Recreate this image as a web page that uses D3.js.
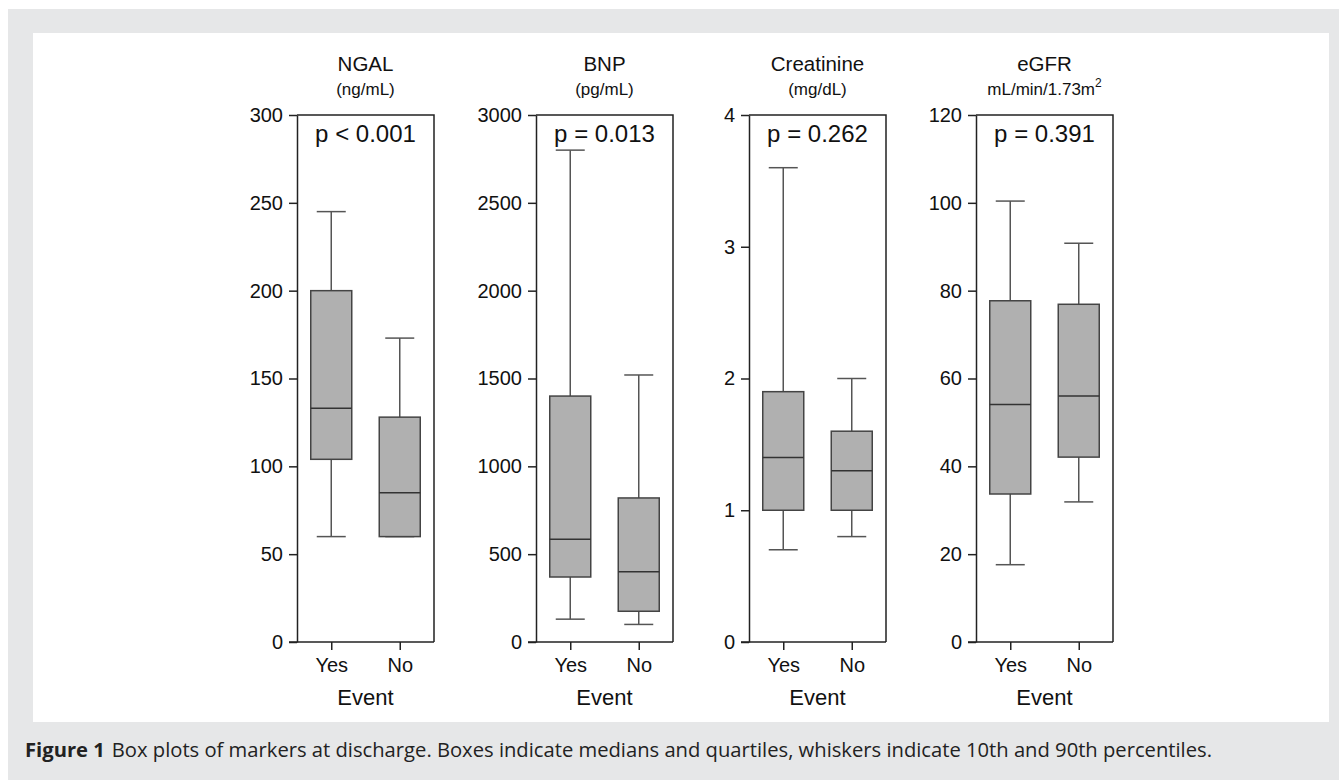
<!DOCTYPE html>
<html>
<head>
<meta charset="utf-8">
<script src="https://cdn.jsdelivr.net/npm/d3@7"></script>
<style>
  body { margin: 0; background: #fff; }
  .axis text { font-family: "Liberation Sans", Arial, sans-serif; font-size: 20px; fill: #111; }
  .axis path, .axis line { stroke: #222; stroke-width: 1.5px; }
</style>
</head>
<body>
<div id="chart-container"></div>
<script>
// categories on the x axis of each small plot
const groups = ['Yes', 'No'];

// one entry per panel
const markers = ['NGAL', 'BNP', 'Creatinine', 'eGFR'];
const units = ['(ng/mL)', '(pg/mL)', '(mg/dL)', 'mL/min/1.73m'];
const pValues = ['p < 0.001', 'p = 0.013', 'p = 0.262', 'p = 0.391'];
const yMax = [300, 3000, 4, 120];
const yTicks = [
	[0, 50, 100, 150, 200, 250, 300],
	[0, 500, 1000, 1500, 2000, 2500, 3000],
	[0, 1, 2, 3, 4],
	[0, 20, 40, 60, 80, 100, 120]
];

// box stats per panel, [Yes, No]
const p10 = [[60, 60], [130, 100], [0.7, 0.8], [17.6, 31.9]];
const q1 = [[104, 60], [370, 175], [1.0, 1.0], [33.7, 42.1]];
const median = [[133, 85], [585, 400], [1.4, 1.3], [54.1, 56]];
const q3 = [[200, 128], [1400, 820], [1.9, 1.6], [77.7, 76.9]];
const p90 = [[245, 173], [2800, 1520], [3.6, 2.0], [100.4, 90.8]];

const captionBold = 'Figure 1';
const captionText = 'Box plots of markers at discharge. Boxes indicate medians and quartiles, whiskers indicate 10th and 90th percentiles.';

const W = 1339, H = 780;
const panelLeft = [297, 536, 749, 976];
const panelW = 137;
const plotTop = 115, plotBottom = 642;
const boxW = 41, capW = 29;

const svg = d3.select('#chart-container').append('svg')
	.attr('width', W)
	.attr('height', H)
	.style('display', 'block');

// grey frame with white plotting area, like the journal page
svg.append('rect').attr('x', 8).attr('y', 9).attr('width', W - 8).attr('height', H - 9).attr('fill', '#e6e7e8');
svg.append('rect').attr('x', 33).attr('y', 33).attr('width', 1296).attr('height', 689).attr('fill', '#fff');

const sans = '"Liberation Sans", Arial, sans-serif';

markers.forEach((m, i) => {
	const g = svg.append('g').attr('transform', 'translate(' + panelLeft[i] + ',0)');

	const y = d3.scaleLinear().domain([0, yMax[i]]).range([plotBottom, plotTop]);
	const x = d3.scalePoint().domain(groups).range([0, panelW]).padding(0.5);

	// frame: top and right edges
	g.append('path')
		.attr('d', 'M0,' + plotTop + 'H' + panelW + 'V' + plotBottom)
		.attr('fill', 'none')
		.attr('stroke', '#222')
		.attr('stroke-width', 1.5);

	g.append('g')
		.attr('class', 'axis')
		.call(d3.axisLeft(y).tickValues(yTicks[i]).tickFormat(d3.format('d'))
			.tickSize(8).tickSizeOuter(0).tickPadding(6));

	const xAxis = g.append('g')
		.attr('class', 'axis')
		.attr('transform', 'translate(0,' + plotBottom + ')')
		.call(d3.axisBottom(x).tickSize(8).tickSizeOuter(0).tickPadding(8));
	// base line reaches back under the 0 tick
	xAxis.select('.domain').attr('d', 'M-8,0H' + panelW);

	groups.forEach((grp, j) => {
		const cx = x(grp);
		// whiskers
		const wg = g.append('g').attr('stroke', '#555').attr('stroke-width', 1.5);
		wg.append('line').attr('x1', cx).attr('x2', cx).attr('y1', y(p90[i][j])).attr('y2', y(q3[i][j]));
		wg.append('line').attr('x1', cx).attr('x2', cx).attr('y1', y(q1[i][j])).attr('y2', y(p10[i][j]));
		wg.append('line').attr('x1', cx - capW / 2).attr('x2', cx + capW / 2).attr('y1', y(p90[i][j])).attr('y2', y(p90[i][j]));
		wg.append('line').attr('x1', cx - capW / 2).attr('x2', cx + capW / 2).attr('y1', y(p10[i][j])).attr('y2', y(p10[i][j]));

		g.append('rect')
			.attr('x', cx - boxW / 2)
			.attr('y', y(q3[i][j]))
			.attr('width', boxW)
			.attr('height', y(q1[i][j]) - y(q3[i][j]))
			.attr('fill', '#b0b0b0')
			.attr('stroke', '#444')
			.attr('stroke-width', 1.5);

		g.append('line')
			.attr('x1', cx - boxW / 2).attr('x2', cx + boxW / 2)
			.attr('y1', y(median[i][j])).attr('y2', y(median[i][j]))
			.attr('stroke', '#333').attr('stroke-width', 1.5);
	});

	const cxPanel = panelW / 2;

	g.append('text')
		.attr('x', cxPanel).attr('y', 71)
		.attr('text-anchor', 'middle')
		.style('font-family', sans).style('font-size', '20.5px').attr('fill', '#111')
		.text(m);

	const u = g.append('text')
		.attr('x', cxPanel).attr('y', 95)
		.attr('text-anchor', 'middle')
		.style('font-family', sans).style('font-size', '17px').attr('fill', '#111')
		.text(units[i]);
	if (m === 'eGFR') {
		u.append('tspan').attr('dy', -8).style('font-size', '12px').text('2');
	}

	g.append('text')
		.attr('x', cxPanel).attr('y', 142)
		.attr('text-anchor', 'middle')
		.style('font-family', sans).style('font-size', '24px').attr('fill', '#111')
		.text(pValues[i]);

	g.append('text')
		.attr('x', cxPanel).attr('y', 705)
		.attr('text-anchor', 'middle')
		.style('font-family', sans).style('font-size', '22px').attr('fill', '#111')
		.text('Event');
});

// caption
const cap = svg.append('text')
	.attr('x', 25).attr('y', 757)
	.style('font-family', '"Open Sans", Lato, sans-serif').style('font-size', '20.2px').attr('fill', '#222');
cap.append('tspan').style('font-weight', 'bold').text(captionBold);
cap.append('tspan').attr('dx', 7).text(captionText);
</script>
</body>
</html>
